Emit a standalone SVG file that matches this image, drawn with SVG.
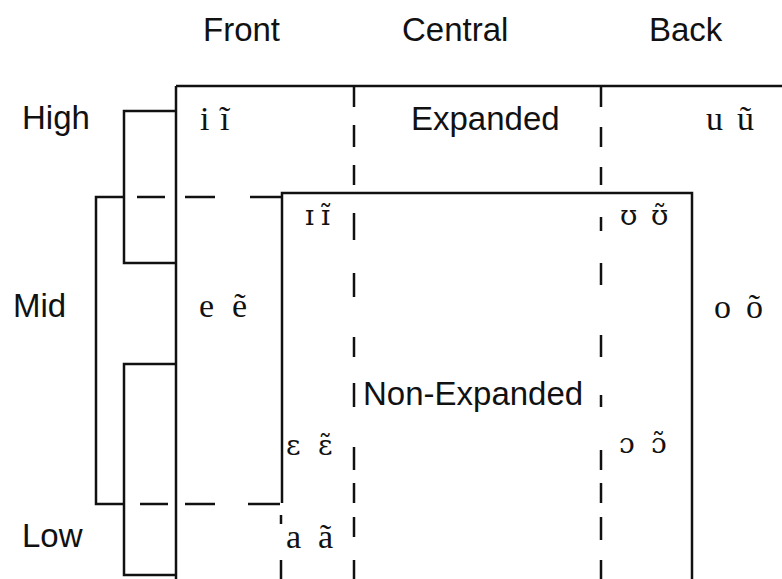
<svg xmlns="http://www.w3.org/2000/svg" width="782" height="579" viewBox="0 0 782 579">
<style>
.sans{font-family:"Liberation Sans",Arial,sans-serif;font-size:33px;fill:#111}
.ser{font-family:"Liberation Serif","Times New Roman",serif;font-size:34px;fill:#111}
.ipa{font-family:"DejaVu Serif","Liberation Serif",serif;font-size:28px;fill:#111}
.ln{fill:none;stroke:#111;stroke-width:2.5}
</style>
<rect width="782" height="579" fill="#fff"/>
<g id="headers">
<text class="sans" x="203" y="41">Front</text>
<text class="sans" x="402" y="41">Central</text>
<text class="sans" x="649" y="41">Back</text>
</g>
<g id="rows">
<text class="sans" x="22" y="129">High</text>
<text class="sans" x="13" y="317">Mid</text>
<text class="sans" x="22" y="547">Low</text>
</g>
<g id="connectors">
<path class="ln" d="M176,86 H782 M176,86 V579"/>
<path class="ln" d="M282,503 V193 H692 V579"/>
<path class="ln" d="M281,515 V524 M281,560 V579"/>
<path class="ln" d="M176,111 H124 V263 H176"/>
<path class="ln" d="M124,197 H96 V504 H124"/>
<path class="ln" d="M176,364 H124 V575 H176"/>
<path class="ln" d="M137,197 H165 M185,197 H215 M250,197 H282"/>
<path class="ln" d="M140,504 H168 M185,504 H215 M248,504 H280"/>
<path class="ln" d="M354,87 V107 M354,125 V147 M354,165 V185 M354,213 V240 M354,273 V297 M354,337 V357 M354,383 V407 M354,447 V470 M354,483 V503 M354,517 V537 M354,560 V579"/>
<path class="ln" d="M601,87 V107 M601,127 V147 M601,167 V185 M601,217 V231 M601,263 V285 M601,335 V357 M601,395 V407 M601,450 V470 M601,483 V503 M601,517 V540 M601,560 V579"/>
</g>
<g id="expanded">
<text class="sans" x="411" y="130">Expanded</text>
<text class="ser" y="130"><tspan x="200">i</tspan><tspan x="220">ĩ</tspan></text>
<text class="ser" y="130"><tspan x="706">u</tspan><tspan x="737">ũ</tspan></text>
<text class="ser" y="317"><tspan x="199">e</tspan><tspan x="232">ẽ</tspan></text>
<text class="ser" y="318"><tspan x="714">o</tspan><tspan x="746">õ</tspan></text>
</g>
<g id="non-expanded">
<text class="sans" x="363" y="405">Non-Expanded</text>
<text class="ipa" y="225"><tspan x="305">ɪ</tspan><tspan x="321">ɪ̃</tspan></text>
<text class="ipa" y="225"><tspan x="620">ʊ</tspan><tspan x="651">ʊ̃</tspan></text>
<text class="ipa" y="455"><tspan x="286">ɛ</tspan><tspan x="318">ɛ̃</tspan></text>
<text class="ipa" y="453"><tspan x="619">ɔ</tspan><tspan x="651">ɔ̃</tspan></text>
<text class="ser" y="548"><tspan x="286">a</tspan><tspan x="318">ã</tspan></text>
</g>
</svg>
